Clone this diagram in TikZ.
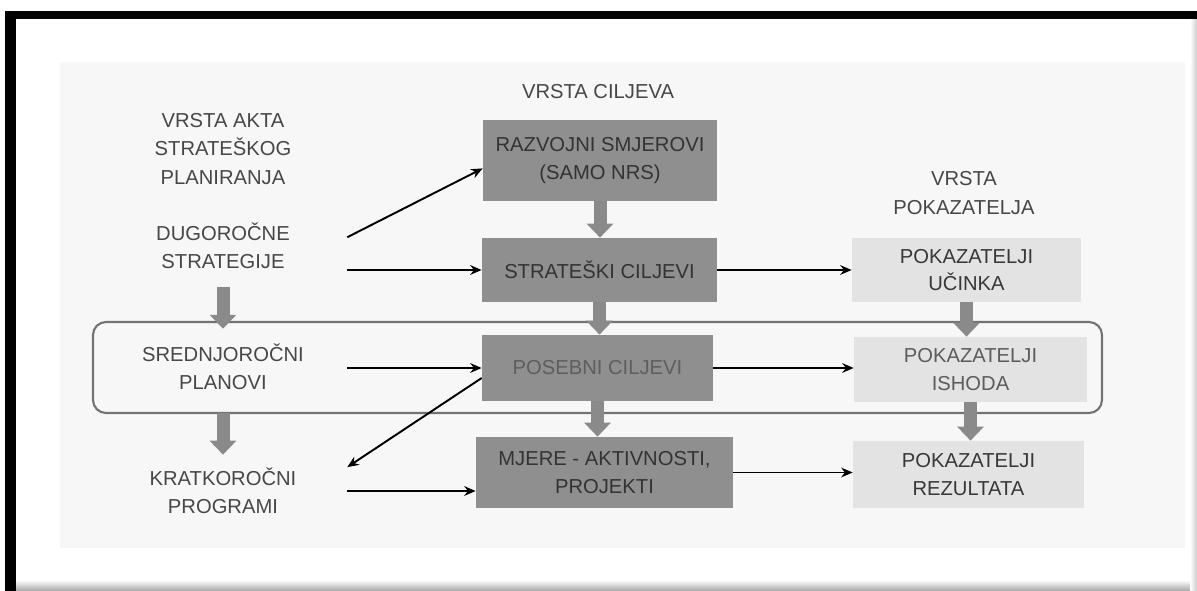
\documentclass[tikz,border=0pt]{standalone}
\usepackage{fontspec}
\setmainfont{Liberation Sans}
\usetikzlibrary{arrows.meta}

\definecolor{panelgray}{HTML}{F7F7F7}
\definecolor{boxdark}{HTML}{8F8F8F}
\definecolor{boxlight}{HTML}{E3E3E3}
\definecolor{arrgray}{HTML}{8A8A8A}

\begin{document}
\begin{tikzpicture}[x=0.02cm, y=-0.02cm,
    lbl/.style={align=center, text=black!72, font=\fontsize{11.5}{16}\selectfont},
    leftlbl/.style={lbl, minimum width=4.96cm, minimum height=1.2cm, inner sep=0pt},
    darkbox/.style={fill=boxdark, align=center, text=black!80, font=\fontsize{11.5}{15.5}\selectfont, inner sep=0pt},
    lightbox/.style={fill=boxlight, align=center, text=black!78, font=\fontsize{11.5}{15.5}\selectfont, inner sep=0pt},
    thinarr/.style={-{Stealth[length=6.5pt,width=5.5pt]}, line width=1.1pt, black},
    blkarr/.style={-{Triangle[length=0.28cm,width=0.52cm]}, line width=7.4pt, arrgray}
]
    \useasboundingbox (0,0) rectangle (1197,591);

    % okvir slike
    \fill[white] (0,0) rectangle (1197,591);
    \shade[top color=white, bottom color=black!35] (16,580) rectangle (1197,591);
    \shade[left color=white, right color=black!20] (1190,19) rectangle (1197,591);
    \fill[black] (5,11) rectangle (1197,19);
    \fill[black] (5,11) rectangle (16,591);
    \fill[panelgray] (60,62) rectangle (1185,548);

    % srednjorocna razina
    \draw[black!55, line width=1.2pt, rounded corners=0.26cm] (93,322) rectangle (1102,413);

    % naslovi stupaca
    \node[lbl] (ciljhead) at (598,92) {VRSTA CILJEVA};
    \node[lbl] (akta) at (223,149) {VRSTA AKTA\\STRATEŠKOG\\PLANIRANJA};
    \node[lbl] (pokhead) at (964,193) {VRSTA\\POKAZATELJA};

    % akti
    \node[leftlbl] (dug) at (223,246) {DUGOROČNE\\STRATEGIJE};
    \node[leftlbl] (sred) at (223,367) {SREDNJOROČNI\\PLANOVI};
    \node[leftlbl] (krat) at (223,491) {KRATKOROČNI\\PROGRAMI};

    % ciljevi
    \node[darkbox, minimum width=4.68cm, minimum height=1.62cm] (razv) at (600,160.5) {RAZVOJNI SMJEROVI\\(SAMO NRS)};
    \node[darkbox, minimum width=4.7cm, minimum height=1.28cm] (strat) at (599.5,270) {STRATEŠKI CILJEVI};
    \node[darkbox, text=black!63, minimum width=4.62cm, minimum height=1.32cm] (pos) at (597.5,368) {POSEBNI CILJEVI};
    \node[darkbox, minimum width=5.14cm, minimum height=1.42cm] (mjere) at (604.5,472.5) {MJERE - AKTIVNOSTI,\\PROJEKTI};

    % pokazatelji
    \node[lightbox, minimum width=4.58cm, minimum height=1.28cm] (ucinak) at (966.5,270) {POKAZATELJI\\UČINKA};
    \node[lightbox, text=black!64, minimum width=4.66cm, minimum height=1.3cm] (ishod) at (970.5,369.5) {POKAZATELJI\\ISHODA};
    \node[lightbox, minimum width=4.62cm, minimum height=1.34cm] (rez) at (968.5,474.5) {POKAZATELJI\\REZULTATA};

    % debele strelice
    \foreach \a/\b in {razv/strat, strat/pos, pos/mjere, ucinak/ishod, ishod/rez}
        \draw[blkarr] (\a.south) -- (\a.south |- \b.north);
    \draw[blkarr, shorten <=6pt, shorten >=4.5pt] (dug.south) -- (sred.north);
    \draw[blkarr, shorten <=9pt, shorten >=3.4pt] (sred.south) -- (krat.north);

    % tanke strelice
    \draw[thinarr] ([yshift=5pt]dug.east) -- ([yshift=-4.5pt]razv.west);
    \draw[thinarr] (dug.east |- strat.west) -- (strat.west);
    \draw[thinarr] (sred.east |- pos.west) -- (pos.west);
    \draw[thinarr] ([yshift=-5.7pt]pos.west) -- ([yshift=13.6pt]krat.east);
    \draw[thinarr] (krat.east) -- (krat.east -| mjere.west);
    \draw[thinarr] (strat.east) -- (ucinak.west);
    \draw[thinarr] (pos.east) -- (pos.east -| ishod.west);
    \draw[thinarr] (mjere.east) -- (mjere.east -| rez.west);
\end{tikzpicture}
\end{document}
